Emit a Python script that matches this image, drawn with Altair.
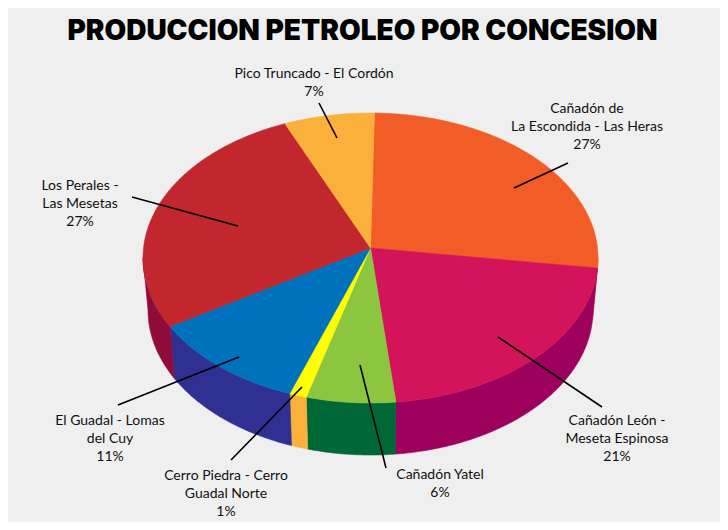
import math
import altair as alt

names = ["Cañadón de La Escondida - Las Heras", "Cañadón León - Meseta Espinosa", "Cañadón Yatel",
         "Cerro Piedra - Cerro Guadal Norte", "El Guadal - Lomas del Cuy", "Los Perales - Las Mesetas",
         "Pico Truncado - El Cordón"]
percent = [27, 21, 6, 1, 11, 27, 7]
# slice sizes as drawn, in degrees of the tilted rim
drawn_deg = [93.0, 79.6, 22.8, 4.4, 41.0, 96.1, 23.1]
first_angle = 271.0

top_colors = ["#f25c26", "#d4145a", "#8cc63f", "#ffff00", "#0071bc", "#c1272d", "#fbb03b"]
wall_colors = ["#f25c26", "#9e005d", "#006837", "#fbb03b", "#2e3192", "#8e0b3a", "#fbb03b"]

label_texts = [
    "Pico Truncado - El Cordón\n7%",
    "Cañadón de\nLa Escondida - Las Heras\n27%",
    "Los Perales -\nLas Mesetas\n27%",
    "El Guadal - Lomas\ndel Cuy\n11%",
    "Cerro Piedra - Cerro\nGuadal Norte\n1%",
    "Cañadón Yatel\n6%",
    "Cañadón León -\nMeseta Espinosa\n21%",
]
label_x = [306, 579, 72, 102, 218, 432, 609]
label_y = [59, 94, 171, 406, 461, 460, 406]

leader_x = [311, 560, 124, 231, 294, 352, 490]
leader_y = [95, 155, 189, 349, 379, 357, 329]
leader_x2 = [329, 506, 230, 110, 223, 378, 594]
leader_y2 = [130, 180, 218, 397, 452, 460, 399]

TITLE = "PRODUCCION PETROLEO POR CONCESION"
RX, RATIO, BOTTOM_RX, DEPTH, APEX = 227.5, 145 / 227.5, 222.5 / 227.5, 52 / 227.5, -10 / 227.5


def top(t):
    r = math.radians(t)
    return [math.cos(r), math.sin(r) * RATIO]


def bottom(t):
    r = math.radians(t)
    return [math.cos(r) * BOTTOM_RX, math.sin(r) * RATIO + DEPTH]


def arc(a, b, f):
    n = max(2, int(abs(b - a)) * 2)
    return [f(a + (b - a) * i / n) for i in range(n + 1)]


features = []
tops = []
start = first_angle
for name, span in zip(names, drawn_deg):
    end = start + span
    ring = [[0, APEX]] + arc(start, end, top) + [[0, APEX]]
    tops.append({"type": "Feature", "geometry": {"type": "Polygon", "coordinates": [ring]},
                 "properties": {"key": name + " top"}})
    # the visible wall is the part of the slice on the near half of the rim
    for shift in (0, 360):
        a, b = max(start - shift, 0), min(end - shift, 180)
        if a < b:
            ring = arc(a, b, top) + arc(b, a, bottom)
            ring.append(ring[0])
            features.append({"type": "Feature", "geometry": {"type": "Polygon", "coordinates": [ring]},
                             "properties": {"key": name + " wall"}})
    start = end
features += tops

domain = [n + " top" for n in names] + [n + " wall" for n in names]
colour_range = top_colors + wall_colors
colour = alt.Scale(domain=domain, range=colour_range)

pie = alt.Chart(alt.Data(values=features)).mark_geoshape(strokeWidth=0.6).encode(
    fill=alt.Fill("properties.key:N", scale=colour, legend=None),
    stroke=alt.Stroke("properties.key:N", scale=colour, legend=None),
).project(type="identity", scale=RX, translate=[362.5, 250])

leaders = alt.Chart(alt.Data(values=[
    {"x": a, "y": b, "x2": c, "y2": d} for a, b, c, d in zip(leader_x, leader_y, leader_x2, leader_y2)
])).mark_rule(color="#000000", strokeWidth=1.6).encode(
    x=alt.X("x:Q", scale=None, axis=None),
    y=alt.Y("y:Q", scale=None, axis=None),
    x2="x2:Q",
    y2="y2:Q",
)

labels = alt.Chart(alt.Data(values=[
    {"t": t, "x": a, "y": b} for t, a, b in zip(label_texts, label_x, label_y)
])).mark_text(font="Lato", fontSize=14, lineBreak="\n", lineHeight=18,
              align="center", baseline="top", color="#111111").encode(
    x=alt.X("x:Q", scale=None, axis=None),
    y=alt.Y("y:Q", scale=None, axis=None),
    text="t:N",
)

title = alt.Chart(alt.Data(values=[{"t": TITLE, "x": 354.5, "y": 24}])).mark_text(
    font="Inter", fontSize=28, fontWeight=900, align="center", baseline="middle", color="#000000"
).encode(
    x=alt.X("x:Q", scale=None, axis=None),
    y=alt.Y("y:Q", scale=None, axis=None),
    text="t:N",
)

chart = alt.layer(pie, leaders, labels, title).properties(
    width=712, height=514, padding=0, background="#efefef",
).configure_view(stroke=None)

chart.save("out.html", embed_options={"renderer": "svg", "actions": False})
